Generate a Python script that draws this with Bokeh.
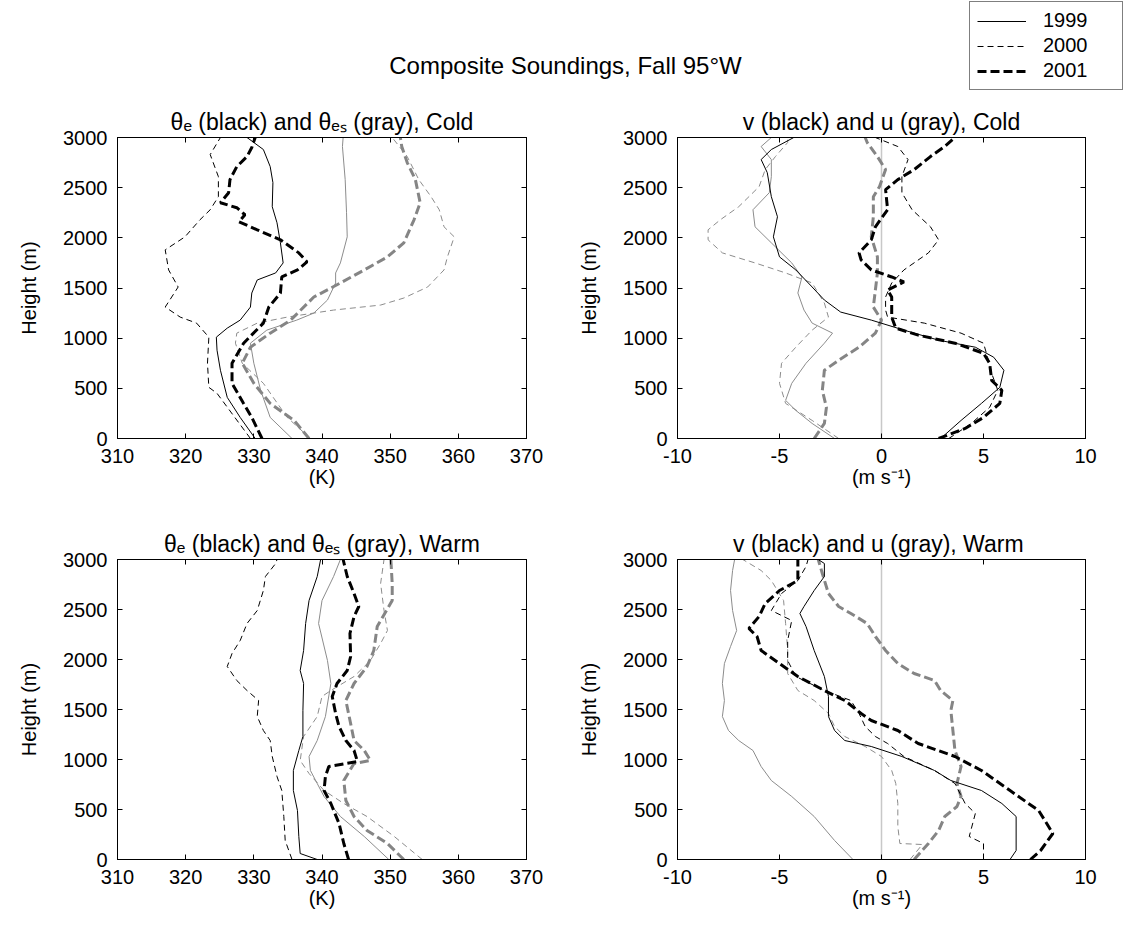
from bokeh.plotting import figure
from bokeh.models import Range1d, LinearAxis, FixedTicker, Span, Legend, LegendItem, Label
from bokeh.layouts import column, row
from bokeh.embed import file_html
from bokeh.resources import INLINE

FONT = "Liberation Sans"

# ---------------- data (height in m, values) ----------------
height_ticks = [0, 500, 1000, 1500, 2000, 2500, 3000]
theta_ticks = [310, 320, 330, 340, 350, 360, 370]
wind_ticks = [-10, -5, 0, 5, 10]

# Cold, theta-e (black)
cold_te99_z = [0, 210, 410, 680, 880, 1010, 1100, 1180, 1310, 1450, 1580, 1650, 1750, 1950, 2150, 2310, 2550, 2710, 2880, 3000]
cold_te99 = [330.2, 328.0, 326.1, 325.1, 324.6, 324.5, 326.1, 328.0, 329.5, 329.7, 330.5, 333.2, 334.3, 333.9, 333.4, 332.7, 332.8, 332.4, 331.4, 329.0]
cold_te00_z = [0, 450, 510, 750, 1010, 1150, 1210, 1310, 1510, 1680, 1880, 2010, 2180, 2280, 2410, 2610, 2830, 3000]
cold_te00 = [329.5, 324.6, 323.4, 323.2, 323.4, 321.6, 319.2, 317.0, 318.9, 317.5, 317.0, 319.9, 322.1, 323.6, 324.8, 324.8, 323.6, 325.1]
cold_te01_z = [0, 210, 350, 550, 750, 950, 1150, 1310, 1450, 1610, 1680, 1760, 1850, 1980, 2080, 2160, 2230, 2300, 2350, 2450, 2580, 2710, 2810, 2900, 3000]
cold_te01 = [331.2, 329.7, 328.5, 326.8, 326.8, 328.5, 331.4, 332.2, 333.9, 334.1, 336.4, 337.8, 336.6, 333.9, 330.5, 327.8, 328.7, 327.5, 325.1, 326.3, 326.5, 327.5, 329.0, 329.7, 330.2]
# Cold, theta-es (gray)
cold_tes99_z = [0, 210, 480, 750, 950, 1080, 1180, 1250, 1380, 1550, 1650, 1750, 2010, 2250, 2580, 2910, 3000]
cold_tes99 = [335.6, 332.4, 331.0, 330.0, 329.5, 331.9, 336.3, 338.8, 340.8, 342.0, 342.0, 342.7, 343.7, 343.6, 343.4, 343.0, 343.1]
cold_tes00_z = [0, 210, 550, 750, 950, 1050, 1150, 1210, 1280, 1330, 1400, 1510, 1680, 1810, 2010, 2110, 2280, 2410, 2580, 2810, 3000]
cold_tes00 = [338.3, 334.9, 331.4, 328.3, 327.3, 327.5, 330.5, 334.9, 341.7, 348.6, 352.0, 355.5, 357.9, 358.4, 359.4, 357.9, 357.2, 356.0, 354.2, 352.5, 350.3]
cold_tes01_z = [0, 180, 350, 550, 750, 910, 1050, 1180, 1410, 1550, 1680, 1810, 1950, 2180, 2350, 2580, 2750, 2910, 3000]
cold_tes01 = [338.1, 335.9, 332.4, 330.0, 328.3, 329.5, 332.4, 335.4, 338.8, 342.7, 346.2, 349.6, 352.0, 353.5, 354.4, 353.7, 352.5, 351.7, 351.5]

# Cold, v (black)
cold_v99_z = [0, 180, 350, 510, 680, 810, 910, 980, 1080, 1180, 1260, 1380, 1510, 1680, 1810, 2010, 2210, 2410, 2650, 2780, 2880, 3000]
cold_v99 = [2.9, 3.9, 4.9, 5.8, 6.0, 5.5, 4.6, 2.8, 1.1, -0.5, -2.0, -2.8, -3.4, -4.2, -5.0, -5.3, -5.1, -5.4, -5.6, -5.9, -5.4, -4.3]
cold_v00_z = [0, 150, 310, 480, 650, 810, 950, 1050, 1150, 1210, 1280, 1410, 1550, 1680, 1850, 1980, 2110, 2280, 2450, 2610, 2780, 2910, 3000]
cold_v00 = [3.3, 4.4, 5.3, 5.7, 5.4, 5.2, 5.0, 3.9, 2.1, 0.3, 0.2, 0.2, 0.5, 1.1, 2.3, 2.8, 2.4, 1.5, 1.0, 1.0, 1.3, 0.8, -0.3]
cold_v01_z = [0, 100, 210, 350, 480, 580, 750, 850, 950, 1030, 1100, 1210, 1410, 1480, 1560, 1610, 1680, 1780, 1850, 1980, 2110, 2280, 2480, 2580, 2680, 2810, 2910, 3000]
cold_v01 = [2.8, 4.1, 5.0, 5.8, 5.9, 5.4, 5.3, 5.0, 3.6, 1.8, 0.7, 0.5, 0.5, 0.3, 1.1, 0.5, -0.5, -1.0, -1.1, -0.5, -0.3, 0.3, 0.2, 0.8, 1.6, 2.4, 3.1, 3.6]
# Cold, u (gray)
cold_u99_z = [0, 150, 280, 380, 550, 750, 950, 1050, 1150, 1280, 1450, 1610, 1750, 1950, 2110, 2280, 2450, 2610, 2780, 2910, 3000]
cold_u99 = [-2.3, -3.4, -4.2, -4.7, -4.4, -3.7, -2.8, -2.4, -3.4, -3.8, -4.1, -3.9, -4.4, -5.4, -6.2, -6.3, -5.5, -5.4, -5.4, -5.9, -5.4]
cold_u00_z = [0, 180, 350, 550, 750, 910, 1080, 1210, 1350, 1550, 1650, 1750, 1850, 1980, 2080, 2180, 2310, 2510, 2680, 2810, 2950, 3000]
cold_u00 = [-2.1, -3.4, -4.7, -5.0, -4.9, -4.2, -3.4, -2.6, -2.8, -3.4, -4.7, -6.2, -7.8, -8.5, -8.5, -7.9, -7.0, -6.0, -5.7, -5.2, -4.6, -4.6]
cold_u01_z = [0, 150, 310, 480, 680, 780, 910, 1050, 1180, 1310, 1480, 1650, 1810, 2010, 2210, 2410, 2510, 2680, 2810, 2950, 3000]
cold_u01 = [-3.3, -2.8, -2.7, -2.9, -2.8, -2.1, -1.1, -0.3, 0.0, -0.4, -0.3, -0.2, -0.2, -0.5, -0.4, -0.4, -0.1, 0.2, -0.2, -0.7, -0.8]

# Warm, theta-e (black)
warm_te99_z = [0, 60, 230, 490, 690, 890, 1090, 1230, 1490, 1760, 1890, 2090, 2360, 2590, 2830, 3000]
warm_te99 = [339.3, 336.8, 336.6, 336.4, 335.8, 335.8, 336.6, 337.2, 337.2, 337.3, 336.8, 337.3, 337.6, 338.1, 339.3, 339.8]
warm_te00_z = [0, 190, 430, 690, 830, 1030, 1190, 1290, 1430, 1590, 1690, 1790, 1930, 2060, 2190, 2360, 2490, 2690, 2830, 2960, 3000]
warm_te00 = [335.6, 334.6, 334.4, 334.1, 333.4, 332.7, 332.4, 331.4, 330.5, 330.7, 329.0, 327.5, 326.1, 326.8, 328.0, 329.0, 330.5, 331.4, 331.7, 333.2, 333.4]
warm_te01_z = [0, 160, 360, 560, 690, 830, 930, 980, 1090, 1190, 1330, 1460, 1630, 1760, 1890, 2030, 2260, 2430, 2530, 2660, 2830, 3000]
warm_te01 = [343.9, 343.2, 342.5, 341.3, 340.3, 340.5, 341.0, 345.2, 344.7, 343.5, 342.5, 342.0, 341.5, 342.2, 343.7, 344.2, 344.1, 344.7, 345.4, 344.7, 343.7, 343.1]
# Warm, theta-es (gray)
warm_tes99_z = [0, 230, 430, 630, 760, 890, 1030, 1190, 1430, 1760, 1990, 2360, 2590, 2830, 3000]
warm_tes99 = [349.8, 346.2, 342.7, 340.3, 339.3, 338.3, 338.1, 339.3, 340.5, 341.3, 340.8, 339.5, 340.0, 341.7, 342.7]
warm_tes00_z = [0, 230, 430, 560, 690, 860, 990, 1230, 1430, 1630, 1690, 1830, 1990, 2160, 2290, 2490, 2760, 3000]
warm_tes00 = [354.7, 350.6, 346.6, 343.2, 340.3, 338.1, 336.8, 337.3, 339.3, 340.0, 341.3, 344.7, 347.1, 348.6, 349.6, 349.1, 348.6, 349.1]
warm_tes01_z = [0, 160, 290, 430, 590, 790, 960, 990, 1090, 1190, 1360, 1590, 1760, 1930, 2090, 2330, 2590, 2760, 3000]
warm_tes01 = [352.0, 349.6, 346.6, 344.7, 343.5, 343.2, 344.7, 347.1, 346.2, 344.7, 344.2, 343.5, 344.7, 346.6, 347.6, 348.1, 350.3, 350.3, 350.1]

# Warm, v (black)
warm_v99_z = [0, 90, 430, 560, 690, 790, 890, 1030, 1130, 1190, 1290, 1430, 1630, 1830, 2090, 2330, 2460, 2530, 2690, 2830, 2960, 3000]
warm_v99 = [6.3, 6.6, 6.6, 5.9, 4.9, 3.4, 2.6, 1.0, -0.5, -1.8, -2.3, -2.6, -2.6, -2.8, -3.3, -3.7, -4.0, -3.8, -3.3, -2.8, -2.8, -3.1]
warm_v00_z = [0, 160, 230, 460, 560, 760, 890, 1030, 1160, 1230, 1330, 1460, 1590, 1690, 1830, 1990, 2190, 2390, 2490, 2660, 2790, 2930, 3000]
warm_v00 = [5.0, 5.0, 4.3, 4.6, 4.1, 3.6, 2.6, 1.1, 0.3, -0.3, -0.8, -1.1, -1.5, -2.8, -4.2, -4.6, -4.6, -4.4, -5.4, -4.9, -4.1, -3.7, -3.6]
warm_v01_z = [0, 90, 260, 360, 490, 690, 890, 1030, 1160, 1290, 1390, 1460, 1590, 1690, 1830, 1960, 2090, 2230, 2310, 2430, 2560, 2690, 2790, 2890, 3000]
warm_v01 = [7.3, 7.8, 8.4, 8.1, 7.7, 6.3, 4.9, 3.6, 1.8, 0.8, -0.5, -1.0, -1.8, -2.8, -4.1, -5.0, -5.9, -6.1, -6.5, -6.0, -5.7, -5.0, -4.1, -4.1, -4.1]
# Warm, u (gray)
warm_u99_z = [0, 190, 430, 630, 790, 930, 1090, 1190, 1290, 1430, 1590, 1760, 1960, 2130, 2290, 2490, 2690, 2890, 3000]
warm_u99 = [-1.4, -2.3, -3.3, -4.4, -5.4, -5.9, -6.3, -7.0, -7.5, -7.8, -7.7, -7.8, -7.7, -7.4, -7.1, -7.3, -7.4, -7.3, -7.2]
warm_u00_z = [0, 150, 160, 330, 560, 760, 890, 1030, 1130, 1230, 1330, 1460, 1590, 1690, 1860, 2090, 2360, 2590, 2790, 2890, 3000]
warm_u00 = [1.4, 2.0, 0.9, 0.8, 0.8, 0.7, 0.5, 0.0, -0.8, -1.8, -2.3, -2.6, -3.3, -4.1, -4.6, -4.6, -4.7, -4.8, -5.4, -5.9, -6.8]
warm_u01_z = [0, 160, 290, 430, 530, 630, 760, 930, 1090, 1290, 1490, 1590, 1690, 1790, 1860, 1960, 2090, 2230, 2360, 2460, 2530, 2660, 2860, 3000]
warm_u01 = [1.6, 2.3, 2.8, 3.1, 3.7, 3.9, 3.7, 3.9, 3.6, 3.5, 3.4, 3.5, 2.9, 2.6, 1.6, 0.8, 0.2, -0.3, -0.7, -1.5, -2.1, -2.6, -2.9, -3.1]

years = ["1999", "2000", "2001"]

# ---------------- styles ----------------
STYLE = {
    "1999": dict(line_width=1, line_dash="solid"),
    "2000": dict(line_width=1, line_dash="6 4"),
    "2001": dict(line_width=3, line_dash="9 4"),
}
BLACK = "black"
GRAY = {"1999": "#8c8c8c", "2000": "#8c8c8c", "2001": "#858585"}


def panel(xr, xticks, title, xlabel, left, right, top, bottom, fw, fh, zero_line=False):
    p = figure(frame_width=fw, frame_height=fh, x_range=Range1d(*xr), y_range=Range1d(0, 3000),
               output_backend="svg", toolbar_location=None,
               min_border_left=left, min_border_right=right,
               min_border_top=top, min_border_bottom=bottom, title=title)
    p.xgrid.visible = False
    p.ygrid.visible = False
    p.outline_line_color = "black"
    p.outline_line_width = 1
    p.title.text_font = FONT
    p.title.text_font_size = "23px"
    p.title.text_font_style = "normal"
    p.title.text_color = "black"
    p.title.align = "center"
    p.title.standoff = 6
    p.xaxis.ticker = FixedTicker(ticks=xticks)
    p.yaxis.ticker = FixedTicker(ticks=height_ticks)
    p.xaxis.major_label_overrides = {t: str(t) for t in xticks}
    p.xaxis.axis_label = xlabel
    p.yaxis.axis_label = "Height (m)"
    for ax in p.xaxis + p.yaxis:
        ax.major_tick_in = 5
        ax.major_tick_out = 0
        ax.minor_tick_line_color = None
        ax.axis_line_color = "black"
        ax.major_tick_line_color = "black"
        ax.major_label_text_font = FONT
        ax.major_label_text_font_size = "20px"
        ax.major_label_text_color = "black"
        ax.axis_label_text_font = FONT
        ax.axis_label_text_font_size = "20px"
        ax.axis_label_text_font_style = "normal"
        ax.axis_label_text_color = "black"
    p.yaxis.major_label_standoff = 10
    p.yaxis.axis_label_standoff = 20
    p.xaxis.major_label_standoff = 10
    p.xaxis.axis_label_standoff = 0
    # inward ticks on top and right (box style), no labels
    top_ax = LinearAxis(ticker=FixedTicker(ticks=xticks), major_label_text_color=None,
                        major_label_standoff=0, major_tick_in=5, major_tick_out=0,
                        minor_tick_line_color=None, axis_line_color="black")
    right_ax = LinearAxis(ticker=FixedTicker(ticks=height_ticks), major_label_text_color=None,
                          major_label_standoff=0, major_tick_in=5, major_tick_out=0,
                          minor_tick_line_color=None, axis_line_color="black")
    p.add_layout(top_ax, "above")
    p.add_layout(right_ax, "right")
    if zero_line:
        p.add_layout(Span(location=0, dimension="height", line_color="#c8c8c8",
                          line_width=1.5, level="underlay"))
    return p


def add_curves(p, gray_sets, black_sets):
    for yr, (z, x) in zip(years, gray_sets):
        p.line(x, z, line_color=GRAY[yr], **STYLE[yr])
    for yr, (z, x) in zip(years, black_sets):
        p.line(x, z, line_color=BLACK, **STYLE[yr])


LW, LF, LR = 117, 409, 33   # left column borders / frame
RW, RF, RR = 118, 408, 42   # right column

p1 = panel((310, 370), theta_ticks, "θₑ (black) and θₑₛ (gray), Cold", "(K)", LW, LR, 42, 70, LF, 301)
add_curves(p1, [(cold_tes99_z, cold_tes99), (cold_tes00_z, cold_tes00), (cold_tes01_z, cold_tes01)],
           [(cold_te99_z, cold_te99), (cold_te00_z, cold_te00), (cold_te01_z, cold_te01)])

p2 = panel((-10, 10), wind_ticks, "v (black) and u (gray), Cold", "(m s⁻¹)", RW, RR, 42, 70, RF, 301, zero_line=True)
add_curves(p2, [(cold_u99_z, cold_u99), (cold_u00_z, cold_u00), (cold_u01_z, cold_u01)],
           [(cold_v99_z, cold_v99), (cold_v00_z, cold_v00), (cold_v01_z, cold_v01)])

p3 = panel((310, 370), theta_ticks, "θₑ (black) and θₑₛ (gray), Warm", "(K)", LW, LR, 51, 79, LF, 300)
add_curves(p3, [(warm_tes99_z, warm_tes99), (warm_tes00_z, warm_tes00), (warm_tes01_z, warm_tes01)],
           [(warm_te99_z, warm_te99), (warm_te00_z, warm_te00), (warm_te01_z, warm_te01)])

p4 = panel((-10, 10), wind_ticks, "v (black) and u (gray),  Warm", "(m s⁻¹)", RW, RR, 51, 79, RF, 300, zero_line=True)
add_curves(p4, [(warm_u99_z, warm_u99), (warm_u00_z, warm_u00), (warm_u01_z, warm_u01)],
           [(warm_v99_z, warm_v99), (warm_v00_z, warm_v00), (warm_v01_z, warm_v01)])

# ---------------- header: suptitle + legend ----------------
hdr = figure(width=1127, height=95, x_range=Range1d(0, 1127), y_range=Range1d(0, 95),
             output_backend="svg", toolbar_location=None, min_border=0,
             x_axis_location=None, y_axis_location=None)
hdr.xgrid.visible = False
hdr.ygrid.visible = False
hdr.outline_line_color = None
hdr.add_layout(Label(x=565, y=30, x_units="screen", y_units="screen",
                     text="Composite Soundings, Fall 95°W", text_align="center",
                     text_baseline="middle", text_font=FONT, text_font_size="24px",
                     text_color="black"))
nan = float("nan")
items = []
for yr in years:
    # legend-only renderer (a single NaN point draws nothing in the plot)
    r = hdr.line(x=[nan], y=[nan], line_color=BLACK, **STYLE[yr])
    items.append(LegendItem(label=yr, renderers=[r]))
leg = Legend(items=items, location=(969, 5), border_line_color="black", border_line_width=1,
             background_fill_color="white", background_fill_alpha=1.0,
             label_text_font=FONT, label_text_font_size="20px", label_text_color="black",
             glyph_width=49, glyph_height=20, label_height=20, label_width=72, spacing=2,
             padding=7, label_standoff=17, margin=0)
hdr.add_layout(leg)

layout = column(hdr, row(p1, p2), row(p3, p4))
open("out.html", "w").write(file_html(layout, INLINE))
